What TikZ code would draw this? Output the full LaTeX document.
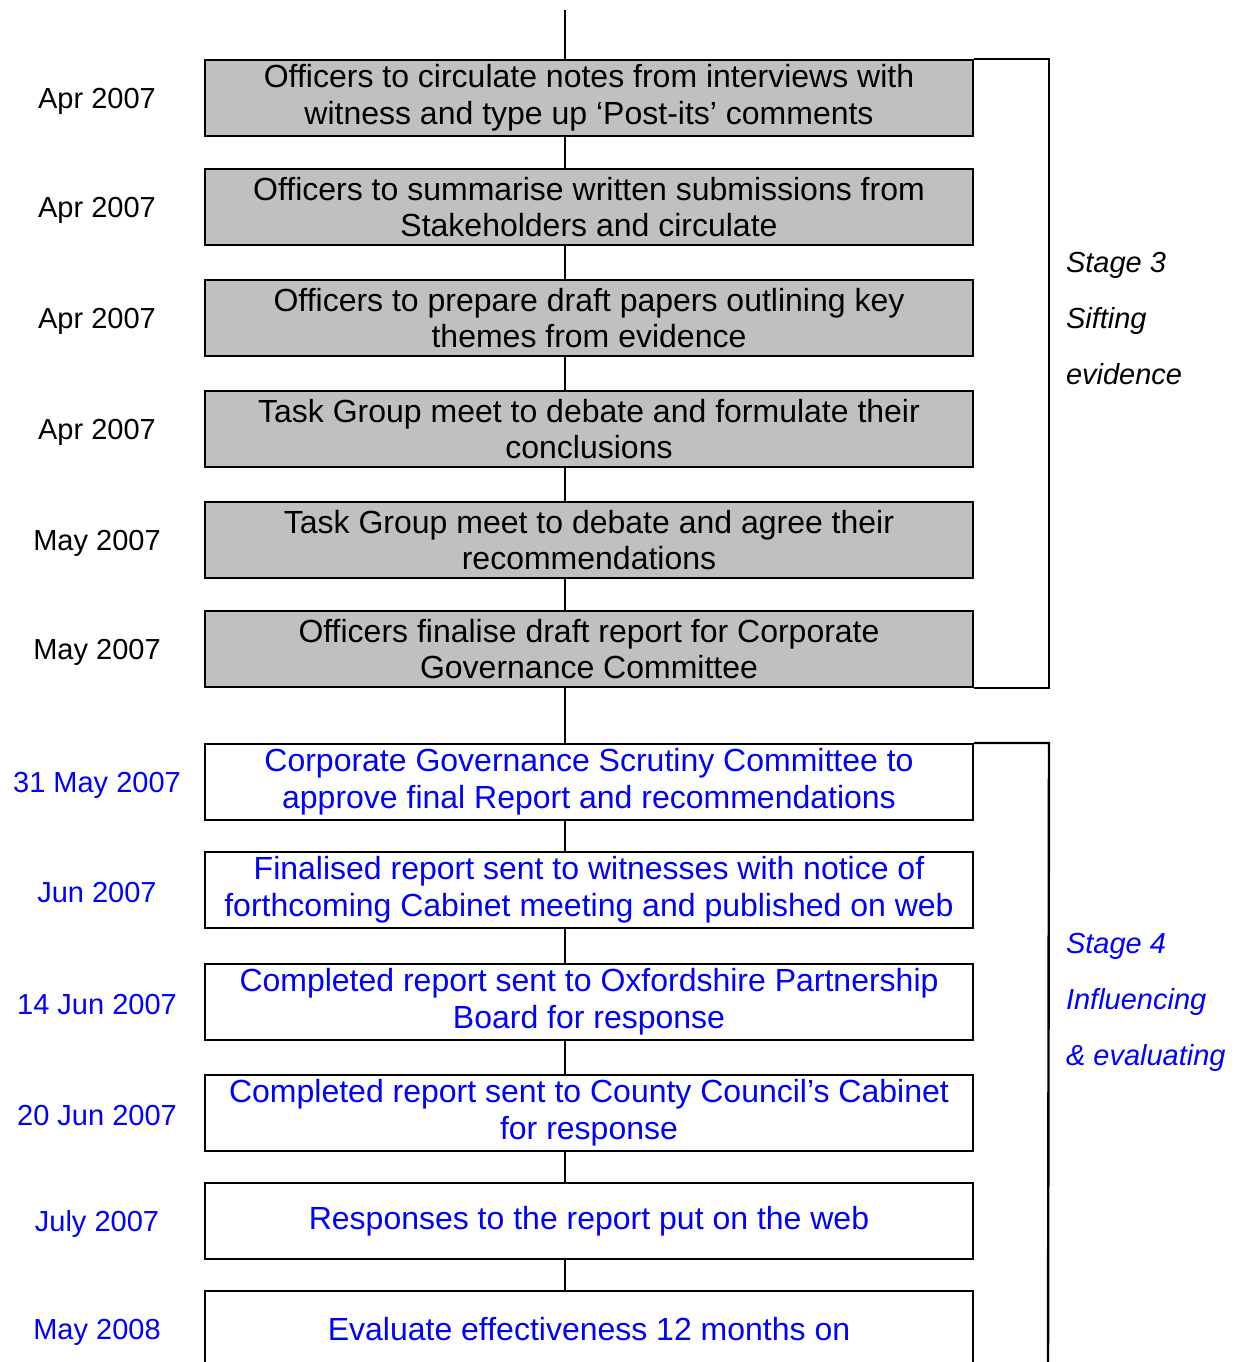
\documentclass[tikz,border=0pt]{standalone}
\usepackage{fontspec}
\setmainfont{Liberation Sans}
\usetikzlibrary{positioning}
\definecolor{boxgrey}{RGB}{192,192,192}
\definecolor{stageblue}{RGB}{0,0,255}

\begin{document}
\begin{tikzpicture}[x=0.5pt,y=-0.5pt,
    step3/.style={draw, fill=boxgrey, line width=1pt, minimum width=384pt,
        minimum height=38pt, align=center, inner sep=0pt,
        font=\fontsize{16}{18.4}\selectfont},
    step4/.style={step3, fill=white, text=stageblue},
    date3/.style={font=\fontsize{14.5}{18.5}\selectfont, yshift=-1.5pt},
    date4/.style={date3, text=stageblue},
    stagelabel/.style={anchor=west, align=left, inner xsep=0pt,
        font=\fontsize{14.5}{28}\selectfont\itshape},
    every path/.style={line width=1pt}]
    \useasboundingbox (0,0) rectangle (1239,1362);

    % stage 3
    \node[step3] (b1) at (589,98) {Officers to circulate notes from interviews with\\witness and type up ‘Post-its’ comments};
    \node[step3] (b2) at (589,207) {Officers to summarise written submissions from\\Stakeholders and circulate};
    \node[step3] (b3) at (589,318) {Officers to prepare draft papers outlining key\\themes from evidence};
    \node[step3] (b4) at (589,429) {Task Group meet to debate and formulate their\\conclusions};
    \node[step3] (b5) at (589,540) {Task Group meet to debate and agree their\\recommendations};
    \node[step3] (b6) at (589,649) {Officers finalise draft report for Corporate\\Governance Committee};

    \node[date3] (d1) at (97,98) {Apr 2007};
    \node[date3] (d2) at (97,207) {Apr 2007};
    \node[date3] (d3) at (97,318) {Apr 2007};
    \node[date3] (d4) at (97,429) {Apr 2007};
    \node[date3] (d5) at (97,540) {May 2007};
    \node[date3] (d6) at (97,649) {May 2007};

    % stage 4
    \node[step4] (b7) at (589,782) {Corporate Governance Scrutiny Committee to\\approve final Report and recommendations};
    \node[step4] (b8) at (589,890) {Finalised report sent to witnesses with notice of\\forthcoming Cabinet meeting and published on web};
    \node[step4] (b9) at (589,1002) {Completed report sent to Oxfordshire Partnership\\Board for response};
    \node[step4] (b10) at (589,1113) {Completed report sent to County Council’s Cabinet\\for response};
    \node[step4] (b11) at (589,1221) {Responses to the report put on the web};
    \node[step4] (b12) at (589,1329) {Evaluate effectiveness 12 months on};

    \node[date4] (d7) at (97,782) {31 May 2007};
    \node[date4] (d8) at (97,890) {Jun 2007};
    \node[date4] (d9) at (97,1002) {14 Jun 2007};
    \node[date4] (d10) at (97,1113) {20 Jun 2007};
    \node[date4] (d11) at (97,1221) {July 2007};
    \node[date4] (d12) at (97,1329) {May 2008};

    % spine
    \coordinate (top) at (565,10);
    \draw (top) -- (top |- b1.north);
    \draw (b1.south -| top) -- (b2.north -| top);
    \draw (b2.south -| top) -- (b3.north -| top);
    \draw (b3.south -| top) -- (b4.north -| top);
    \draw (b4.south -| top) -- (b5.north -| top);
    \draw (b5.south -| top) -- (b6.north -| top);
    \draw (b6.south -| top) -- (b7.north -| top);
    \draw (b7.south -| top) -- (b8.north -| top);
    \draw (b8.south -| top) -- (b9.north -| top);
    \draw (b9.south -| top) -- (b10.north -| top);
    \draw (b10.south -| top) -- (b11.north -| top);
    \draw (b11.south -| top) -- (b12.north -| top);

    % brackets
    \coordinate (s4end) at (1048,1370);
    \draw[line width=1.2pt] (b1.north east) -- ++(75,0) |- (b6.south east);
    \draw[line width=1.2pt] (b7.north east) -- ++(75,0) -- (s4end);

    \node[stagelabel] (s3) at (1065,319) {Stage 3\\Sifting\\evidence};
    \node[stagelabel, text=stageblue] (s4) at (1065,1002) {Stage 4\\Influencing\\\& evaluating};
\end{tikzpicture}
\end{document}
